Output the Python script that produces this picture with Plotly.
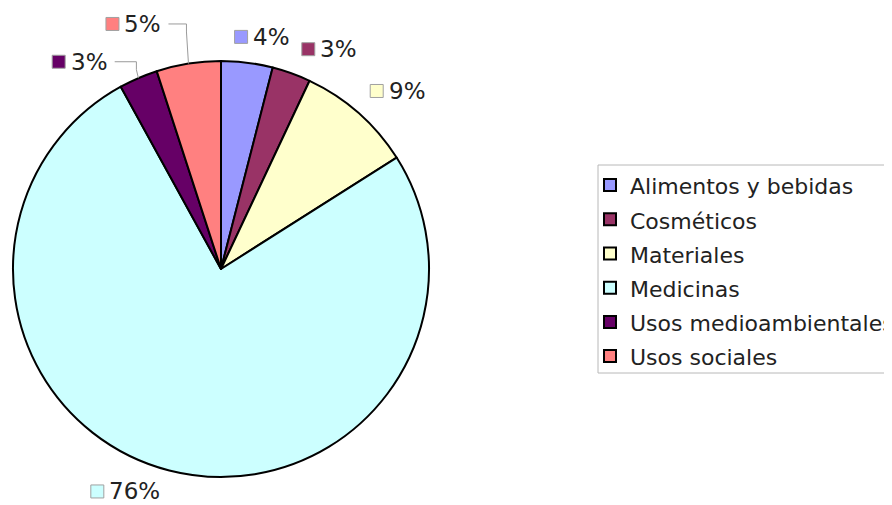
import math
import plotly.graph_objects as go

# ---- data ----
categories = ["Alimentos y bebidas", "Cosméticos", "Materiales", "Medicinas",
              "Usos medioambientales", "Usos sociales"]
values = [4, 3, 9, 76, 3, 5]
colors = ["#9999FF", "#993366", "#FFFFCC", "#CCFFFF", "#660066", "#FF8080"]

# ---- layout helpers (window pixels) ----
W, H = 892, 505
OFF = 8            # page body margin of the rendered html
CX, CY, R = 221, 269, 208
LABEL_R = 240
# nudge of each label's colour key from the point on the label circle (px)
label_nudge = [(-10, 6), (6, 6), (-3, 2), (-64, -10), (-67, 13), (-71, -8)]
leader = [False, False, False, False, True, True]
FONT = "DejaVu Sans, Verdana, sans-serif"
TXT = "#222222"


def px(x):
    return (x - OFF) / W


def py(y):
    return 1 - (y - OFF) / H


total = sum(values)
legend_labels = [f"<span style='font-size:22px'>{c}</span>" for c in categories]
fig = go.Figure(go.Pie(
    labels=legend_labels, values=values, sort=False, direction="clockwise",
    rotation=0,
    marker=dict(colors=colors, line=dict(color="#000000", width=2)),
    textinfo="none", customdata=categories,
    hovertemplate="%{customdata}: %{percent}<extra></extra>",
    domain=dict(x=[px(CX - R), px(CX + R)], y=[py(CY + R), py(CY - R)]),
))

shapes = []
annotations = []
cum = 0
for i, v in enumerate(values):
    mid = (cum + v / 2) / total * 2 * math.pi
    cum += v
    s, c = math.sin(mid), math.cos(mid)
    kx = CX + LABEL_R * s + label_nudge[i][0]
    ky = CY - LABEL_R * c + label_nudge[i][1]
    # colour key
    shapes.append(dict(type="rect", xref="paper", yref="paper",
                       x0=px(kx - 6.5), x1=px(kx + 6.5),
                       y0=py(ky + 6.5), y1=py(ky - 6.5),
                       fillcolor=colors[i], line=dict(color="#A0A0A0", width=1)))
    pct = f"{round(v / total * 100)}%"
    annotations.append(dict(xref="paper", yref="paper", x=px(kx + 10), y=py(ky),
                            xanchor="left", yanchor="middle", showarrow=False,
                            text=pct, font=dict(family=FONT, size=23, color=TXT)))
    if leader[i]:
        tw = 19 * len(pct)
        sx = kx + 10 + tw + 8
        ex = CX + R * s
        ey = CY - R * c
        path = (f"M {px(sx)} {py(ky)} L {px(ex - 2)} {py(ky)} "
                f"L {px(ex - 2)} {py(ky + 8)} L {px(ex)} {py(ey)}")
        shapes.append(dict(type="path", xref="paper", yref="paper", path=path,
                           line=dict(color="#9A9A9A", width=1)))

# legend border (extends past the right edge, as in the reference)
shapes.append(dict(type="rect", xref="paper", yref="paper",
                   x0=px(598), x1=px(905), y0=py(373), y1=py(165),
                   line=dict(color="#B8B8B8", width=1), fillcolor="rgba(0,0,0,0)"))

fig.update_layout(
    width=W, height=H,
    margin=dict(l=0, r=0, t=0, b=0, autoexpand=False),
    paper_bgcolor="white", plot_bgcolor="white",
    showlegend=True,
    legend=dict(x=px(590), y=py(271), xanchor="left", yanchor="middle",
                font=dict(family=FONT, size=24, color=TXT),
                bgcolor="rgba(0,0,0,0)", borderwidth=0),
    shapes=shapes, annotations=annotations,
)

fig.write_html("out.html")
